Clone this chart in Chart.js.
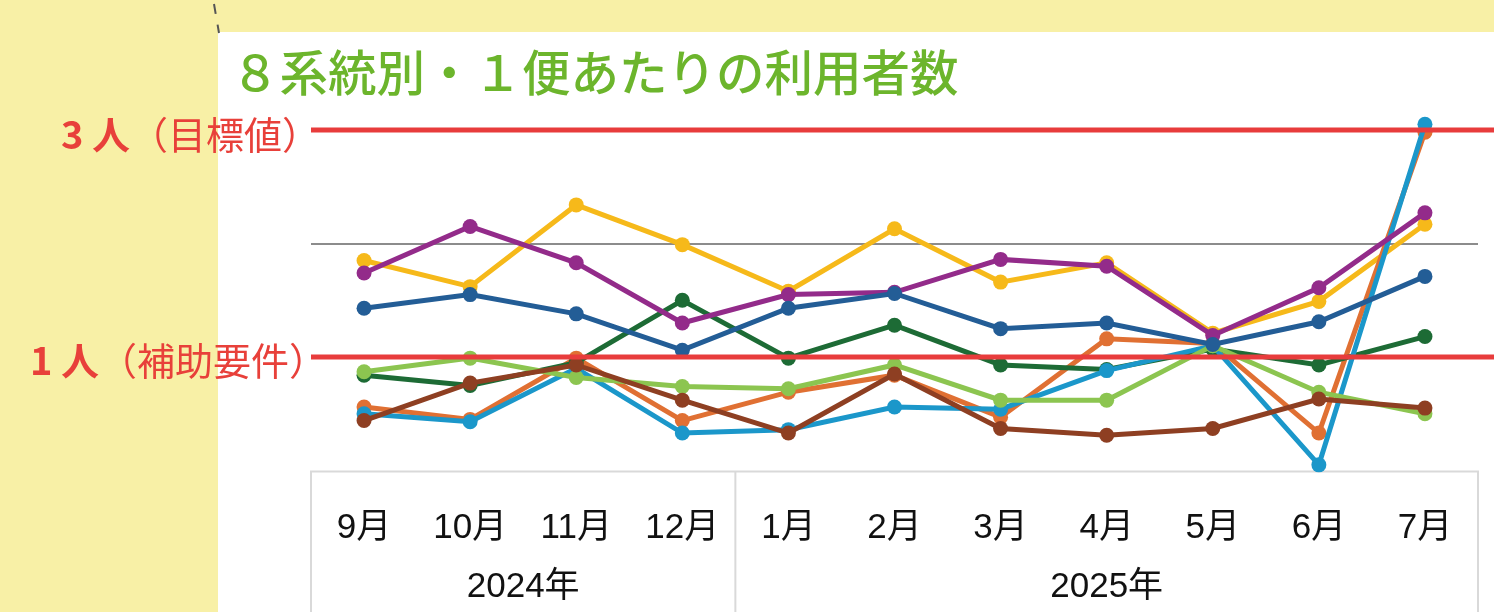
<!DOCTYPE html>
<html lang="ja">
<head>
<meta charset="utf-8">
<script src="https://cdn.jsdelivr.net/npm/chart.js"></script>
<style>
html, body { margin: 0; padding: 0; }
body { width: 1494px; height: 612px; background: #f8f0a6; position: relative; overflow: hidden; font-family: 'Noto Sans CJK JP', sans-serif; }
#panel { position: absolute; left: 218px; top: 32px; right: 0; bottom: 0; background: #fff; }
#dash { position: absolute; left: 209px; top: 2px; }
#wrap { position: absolute; left: 0; top: 0; width: 1494px; height: 612px; }
#title { position: absolute; left: 231px; top: 41px; font-size: 48.5px; line-height: 1.2; color: #6cb52c; font-weight: 500; white-space: nowrap; }
.goal { position: absolute; color: #e8403a; font-size: 38px; line-height: 1; white-space: nowrap; }
.goal b { font-weight: 700; }
</style>
</head>
<body>
<div id="panel"></div>
<svg id="dash" width="20" height="34"><line x1="5" y1="2" x2="10" y2="31" stroke="#555" stroke-width="2" stroke-dasharray="10 11"/></svg>
<div id="wrap"><canvas id="usersChart" width="1494" height="612"></canvas></div>
<div id="title">８系統別・１便あたりの利用者数</div>
<div class="goal" style="left:61px; top:114px;"><b>3 人</b>（目標値）</div>
<div class="goal" style="left:30px; top:340px;"><b>1 人</b>（補助要件）</div>
<script>
// months along the axis, and which months belong to each year
const months = ['9月', '10月', '11月', '12月', '1月', '2月', '3月', '4月', '5月', '6月', '7月'];
const years = ['2024年', '2025年'];
const yearSpans = [[0, 3], [4, 10]];

// reference lines (persons per trip)
const targetLine = 3;
const supportLine = 1;
const midLine = 2;

// per-route users per trip
const routeBlue   = [1.43, 1.55, 1.38, 1.06, 1.43, 1.56, 1.25, 1.30, 1.11, 1.31, 1.71];
const routePurple = [1.74, 2.15, 1.83, 1.30, 1.55, 1.57, 1.86, 1.80, 1.19, 1.61, 2.27];
const routeBrown  = [0.44, 0.77, 0.93, 0.62, 0.33, 0.85, 0.37, 0.31, 0.37, 0.63, 0.55];
const routeLime   = [0.87, 0.99, 0.82, 0.74, 0.72, 0.93, 0.62, 0.62, 1.10, 0.69, 0.50];
const routeCyan   = [0.50, 0.43, 0.90, 0.33, 0.36, 0.56, 0.54, 0.88, 1.10, 0.05, 3.05];
const routeGreen  = [0.84, 0.75, 0.95, 1.50, 0.99, 1.28, 0.93, 0.89, 1.07, 0.93, 1.18];
const routeOrange = [0.56, 0.45, 0.99, 0.44, 0.69, 0.84, 0.47, 1.16, 1.12, 0.33, 2.98];
const routeYellow = [1.85, 1.62, 2.34, 1.99, 1.58, 2.13, 1.66, 1.83, 1.21, 1.49, 2.17];

const series = [
    {name: '系統A', data: routeBlue, color: '#235d96'},
    {name: '系統B', data: routePurple, color: '#932b8a'},
    {name: '系統C', data: routeBrown, color: '#8e3f22'},
    {name: '系統D', data: routeLime, color: '#8cc550'},
    {name: '系統E', data: routeCyan, color: '#1b97ca'},
    {name: '系統F', data: routeGreen, color: '#1d6b35'},
    {name: '系統G', data: routeOrange, color: '#e07033'},
    {name: '系統H', data: routeYellow, color: '#f6b91a'}
];

const axisFont = "'Liberation Sans', 'Noto Sans CJK JP', sans-serif";

// box under the plot, year captions and the two red lines
const framePlugin = {
    id: 'frame',
    beforeDatasetsDraw(chart) {
        const {ctx, chartArea, scales: {x}} = chart;
        const mid = (x.getPixelForValue(3) + x.getPixelForValue(4)) / 2;
        ctx.save();
        ctx.strokeStyle = '#d9d9d9';
        ctx.lineWidth = 2;
        ctx.beginPath();
        ctx.moveTo(chartArea.left, chartArea.bottom + 1);
        ctx.lineTo(chartArea.right, chartArea.bottom + 1);
        [chartArea.left, mid, chartArea.right].forEach((px) => {
            ctx.moveTo(px, chartArea.bottom);
            ctx.lineTo(px, chart.height);
        });
        ctx.stroke();

        ctx.fillStyle = '#111';
        ctx.font = '35px ' + axisFont;
        ctx.textAlign = 'center';
        ctx.textBaseline = 'middle';
        yearSpans.forEach((span, i) => {
            const cx = (x.getPixelForValue(span[0]) + x.getPixelForValue(span[1])) / 2;
            ctx.fillText(years[i], cx, 587);
        });
        ctx.restore();
    },
    afterDatasetsDraw(chart) {
        const {ctx, chartArea, scales: {y}} = chart;
        ctx.save();
        ctx.strokeStyle = '#e83c3c';
        ctx.lineWidth = 5;
        [targetLine, supportLine].forEach((v) => {
            const py = y.getPixelForValue(v);
            ctx.beginPath();
            ctx.moveTo(chartArea.left, py);
            ctx.lineTo(chart.width, py);
            ctx.stroke();
        });
        ctx.restore();
    }
};

const ctx = document.getElementById('usersChart').getContext('2d');
new Chart(ctx, {
    type: 'line',
    data: {
        labels: months,
        datasets: series.map((s) => ({
            label: s.name,
            data: s.data,
            borderColor: s.color,
            backgroundColor: s.color,
            borderWidth: 5,
            pointRadius: 7.5,
            pointBorderWidth: 0,
            tension: 0,
            clip: false
        }))
    },
    options: {
        responsive: false,
        animation: false,
        layout: {
            padding: {left: 311, right: 16, top: 118.65, bottom: 0}
        },
        plugins: {
            legend: {display: false},
            tooltip: {enabled: false}
        },
        scales: {
            x: {
                offset: true,
                grid: {display: false, drawTicks: false},
                border: {display: false},
                ticks: {
                    color: '#111',
                    padding: 37,
                    maxRotation: 0,
                    autoSkip: false,
                    font: {size: 35, family: axisFont}
                },
                afterFit: (scale) => { scale.height = 141.5; }
            },
            y: {
                min: 0,
                max: 3.1,
                ticks: {display: false, stepSize: 1},
                border: {display: false},
                grid: {
                    drawTicks: false,
                    lineWidth: 2,
                    color: (c) => (c.tick && c.tick.value === midLine ? '#8c8c8c' : 'rgba(0,0,0,0)')
                },
                afterFit: (scale) => { scale.width = 0; }
            }
        }
    },
    plugins: [framePlugin]
});
</script>
</body>
</html>
